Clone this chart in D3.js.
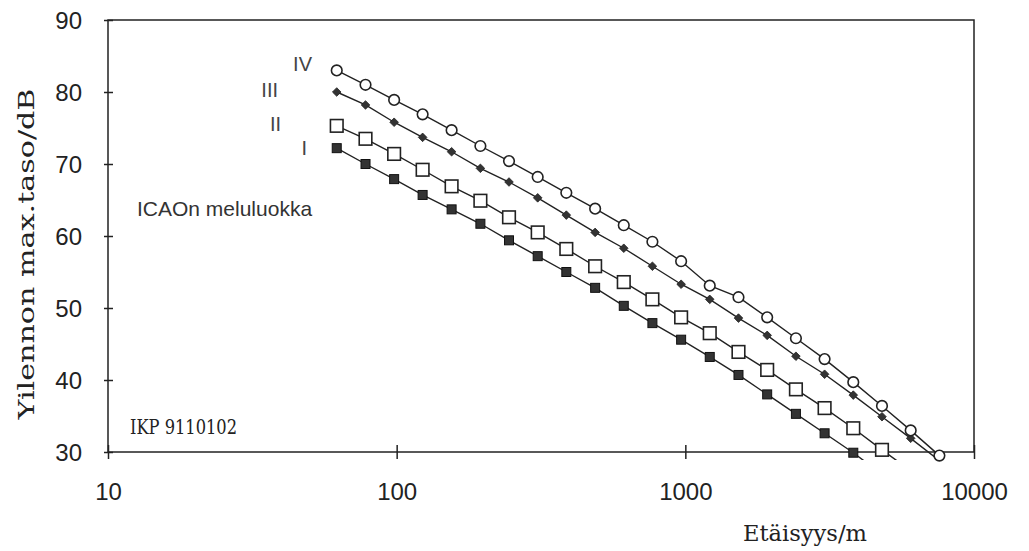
<!DOCTYPE html>
<html>
<head>
<meta charset="utf-8">
<script src="https://cdn.jsdelivr.net/npm/d3@7"></script>
<style>
  html, body { margin: 0; padding: 0; background: #ffffff; }
  svg { display: block; }
</style>
</head>
<body>
<svg id="chart" width="1029" height="551"></svg>
<script>
// Distance from the flight path (m) for each computed point
const distances = [62, 78, 98, 123, 155, 195, 245, 308, 387, 487, 612, 769,
                   967, 1215, 1528, 1921, 2416, 3037, 3818, 4800, 6035, 7588];

// Maximum flyover level (dB) for ICAO noise classes I–IV
const classI   = [72.2, 70.0, 67.9, 65.7, 63.7, 61.7, 59.4, 57.2, 55.0, 52.8, 50.3,
                  47.9, 45.6, 43.2, 40.7, 38.0, 35.3, 32.6, 29.9, 26.9];
const classII  = [75.3, 73.5, 71.4, 69.2, 66.9, 64.9, 62.6, 60.5, 58.2, 55.8, 53.6,
                  51.2, 48.7, 46.5, 43.9, 41.4, 38.7, 36.1, 33.3, 30.3, 27.4];
const classIII = [80.0, 78.2, 75.8, 73.7, 71.7, 69.4, 67.5, 65.3, 62.9, 60.5, 58.3,
                  55.8, 53.3, 51.2, 48.6, 46.2, 43.3, 40.8, 37.9, 34.9, 31.9, 28.8];
const classIV  = [83.0, 81.0, 78.9, 76.9, 74.7, 72.5, 70.4, 68.2, 66.0, 63.8, 61.5,
                  59.2, 56.5, 53.1, 51.5, 48.7, 45.8, 42.9, 39.7, 36.4, 33.0, 29.5];

const seriesNames = ["I", "II", "III", "IV"];
const xTicks = [10, 100, 1000, 10000];
const yTicks = [30, 40, 50, 60, 70, 80, 90];

(function drawChart() {
  const svg = d3.select("#chart");
  const plotLeft = 108, plotRight = 974, plotTop = 20, plotBottom = 452;
  const ink = "#222";

  const x = d3.scaleLog().domain([10, 10000]).range([plotLeft, plotRight]);
  const y = d3.scaleLinear().domain([30, 90]).range([plotBottom, plotTop]);

  // frame
  svg.append("rect")
    .attr("x", plotLeft).attr("y", plotTop)
    .attr("width", plotRight - plotLeft).attr("height", plotBottom - plotTop)
    .attr("fill", "none").attr("stroke", ink).attr("stroke-width", 1.5);

  // y axis: ticks crossing the left edge
  const yAxis = svg.append("g")
    .attr("transform", `translate(${plotLeft},0)`)
    .call(d3.axisLeft(y).tickValues(yTicks).tickSize(4).tickPadding(0).tickFormat(d3.format("d")));
  yAxis.select(".domain").remove();
  yAxis.selectAll(".tick line").attr("x1", -4).attr("x2", 5).attr("stroke", ink).attr("stroke-width", 1.5);
  yAxis.selectAll(".tick text")
    .attr("x", -26).attr("dy", "0.36em")
    .attr("font-family", "'Liberation Sans', Arial, sans-serif")
    .attr("font-size", 24).attr("fill", ink);

  // x axis: ticks crossing the bottom edge
  const xAxis = svg.append("g")
    .attr("transform", `translate(0,${plotBottom})`)
    .call(d3.axisBottom(x).tickValues(xTicks).tickSize(7).tickFormat(d3.format("d")));
  xAxis.select(".domain").remove();
  xAxis.selectAll(".tick line").attr("y1", -7).attr("y2", 7).attr("stroke", ink).attr("stroke-width", 1.5);
  xAxis.selectAll(".tick text")
    .attr("y", 48).attr("dy", 0)
    .attr("font-family", "'Liberation Sans', Arial, sans-serif")
    .attr("font-size", 24).attr("fill", ink);

  // axis titles
  svg.append("text")
    .attr("transform", "translate(34,254) rotate(-90)")
    .attr("text-anchor", "middle")
    .attr("font-family", "'DejaVu Serif', serif")
    .attr("font-size", 23)
    .attr("textLength", 331).attr("lengthAdjust", "spacingAndGlyphs")
    .attr("fill", ink)
    .text("Yilennon max.taso/dB");

  svg.append("text")
    .attr("x", 805).attr("y", 541)
    .attr("text-anchor", "middle")
    .attr("font-family", "'DejaVu Serif', serif")
    .attr("font-size", 23)
    .attr("textLength", 124).attr("lengthAdjust", "spacingAndGlyphs")
    .attr("fill", ink)
    .text("Etäisyys/m");

  // annotations
  svg.append("text")
    .attr("x", 137).attr("y", 216)
    .attr("font-family", "'Liberation Sans', Arial, sans-serif")
    .attr("font-size", 21).attr("fill", "#333")
    .text("ICAOn meluluokka");

  svg.append("text")
    .attr("x", 130).attr("y", 434)
    .attr("font-family", "'DejaVu Serif', serif")
    .attr("font-size", 20)
    .attr("textLength", 107).attr("lengthAdjust", "spacingAndGlyphs")
    .attr("fill", ink)
    .text("IKP 9110102");

  // class labels beside the first points
  const labelPos = [[307, 155], [281, 131], [278, 97], [312, 71]];
  seriesNames.forEach((n, i) => {
    svg.append("text")
      .attr("x", labelPos[i][0]).attr("y", labelPos[i][1])
      .attr("text-anchor", "end")
      .attr("font-family", "'Liberation Sans', Arial, sans-serif")
      .attr("font-size", 20).attr("fill", "#444")
      .text(n);
  });

  // lines run a little past the bottom edge, as in the original plot
  svg.append("defs").append("clipPath").attr("id", "plotClip")
    .append("rect").attr("x", plotLeft).attr("y", plotTop)
    .attr("width", plotRight - plotLeft).attr("height", plotBottom - plotTop + 8);

  const series = [classI, classII, classIII, classIV];
  const line = d3.line().x(d => x(d[0])).y(d => y(d[1]));

  const lines = svg.append("g").attr("clip-path", "url(#plotClip)");
  series.forEach(vals => {
    const pts = vals.map((v, i) => [distances[i], v]);
    lines.append("path")
      .attr("d", line(pts))
      .attr("fill", "none").attr("stroke", ink).attr("stroke-width", 1.4);
  });

  // markers, only for points on the plotted range
  const marks = svg.append("g");
  series.forEach((vals, si) => {
    vals.forEach((v, i) => {
      if (v < 29) return;
      const cx = x(distances[i]), cy = y(v);
      if (si === 0) {
        marks.append("rect").attr("x", cx - 4.5).attr("y", cy - 4.5)
          .attr("width", 9).attr("height", 9)
          .attr("fill", "#333").attr("stroke", "#111").attr("stroke-width", 1);
      } else if (si === 1) {
        marks.append("rect").attr("x", cx - 6.3).attr("y", cy - 6.3)
          .attr("width", 12.6).attr("height", 12.6)
          .attr("fill", "#fff").attr("stroke", ink).attr("stroke-width", 1.6);
      } else if (si === 2) {
        marks.append("path")
          .attr("d", `M${cx},${cy - 4.3}L${cx + 4.3},${cy}L${cx},${cy + 4.3}L${cx - 4.3},${cy}Z`)
          .attr("fill", "#333").attr("stroke", "#222").attr("stroke-width", 0.8);
      } else {
        marks.append("circle").attr("cx", cx).attr("cy", cy).attr("r", 5.3)
          .attr("fill", "#fff").attr("stroke", ink).attr("stroke-width", 1.6);
      }
    });
  });
})();
</script>
</body>
</html>
